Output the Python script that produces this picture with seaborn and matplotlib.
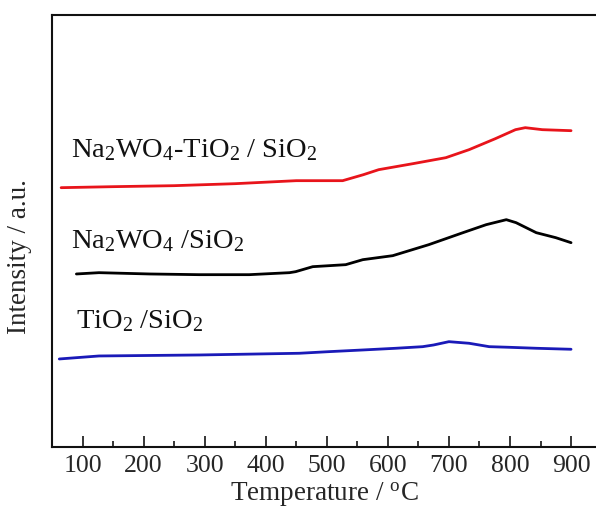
import numpy as np
import pandas as pd
import matplotlib.pyplot as plt
import seaborn as sns

# values (intensity in arbitrary units)
t_red = [65, 150, 250, 350, 450, 526, 560, 585, 641, 695, 733, 776, 809, 825, 853, 900]
i_red = [2.59, 2.60, 2.61, 2.63, 2.66, 2.66, 2.72, 2.77, 2.83, 2.89, 2.97, 3.08, 3.17, 3.19, 3.17, 3.16]

t_black = [90, 127, 210, 291, 373, 439, 449, 477, 531, 559, 608, 667, 723, 761, 794, 810, 843, 875, 900]
i_black = [1.727, 1.74, 1.727, 1.72, 1.72, 1.74, 1.75, 1.80, 1.82, 1.87, 1.91, 2.02, 2.14, 2.22, 2.27, 2.24, 2.14, 2.09, 2.04]

t_blue = [62, 127, 292, 455, 503, 559, 613, 657, 675, 700, 733, 766, 798, 843, 900]
i_blue = [0.877, 0.907, 0.917, 0.934, 0.95, 0.967, 0.984, 1.00, 1.017, 1.05, 1.034, 1.00, 0.994, 0.984, 0.974]

labels = ["Na$_2$WO$_4$-TiO$_2$ / SiO$_2$", "Na$_2$WO$_4$ /SiO$_2$", "TiO$_2$ /SiO$_2$"]
label_pos = [(81, 2.90), (81, 1.99), (90, 1.19)]
colors = ["#e8141b", "#000000", "#1a1ab8"]

sns.set_theme(style="ticks")
plt.rcParams["font.family"] = ["Liberation Serif", "DejaVu Serif"]
plt.rcParams["mathtext.fontset"] = "custom"
plt.rcParams["mathtext.rm"] = "Liberation Serif"
plt.rcParams["mathtext.it"] = "Liberation Serif:italic"

fig = plt.figure(figsize=(5.96, 5.13), dpi=100)
ax = fig.add_axes([0.0872, 0.1293, 0.915, 0.8415])

series = [(t_red, i_red), (t_black, i_black), (t_blue, i_blue)]
for (t, i), c in zip(series, colors):
    df = pd.DataFrame({"T": t, "I": i})
    sns.lineplot(data=df, x="T", y="I", color=c, lw=2, ax=ax)

for lab, (x, y) in zip(labels, label_pos):
    ax.text(x, y, lab, fontsize=20.5, va="baseline", ha="left", color="#111111")

ax.set_xlim(50, 943)
ax.set_ylim(0, 4.317)
ax.set_xticks(range(100, 1000, 100))
ax.set_xticks(range(150, 950, 100), minor=True)
ax.set_yticks([])
ax.tick_params(axis="x", which="major", direction="in", length=8, width=1.3, labelsize=18.5, pad=6, top=False)
ax.tick_params(axis="x", which="minor", direction="in", length=4, width=1.3, top=False)
for s in ["left", "bottom", "top"]:
    ax.spines[s].set_linewidth(1.5)
    ax.spines[s].set_color("#111111")
ax.spines["right"].set_visible(False)

ax.set_xlabel("Temperature / $^{\\mathrm{o}}$C", fontsize=19.5, labelpad=3)
ax.set_ylabel("Intensity / a.u.", fontsize=19.5)
ax.yaxis.set_label_coords(-0.037, 0.44)

fig.savefig("out.png", dpi=100)
